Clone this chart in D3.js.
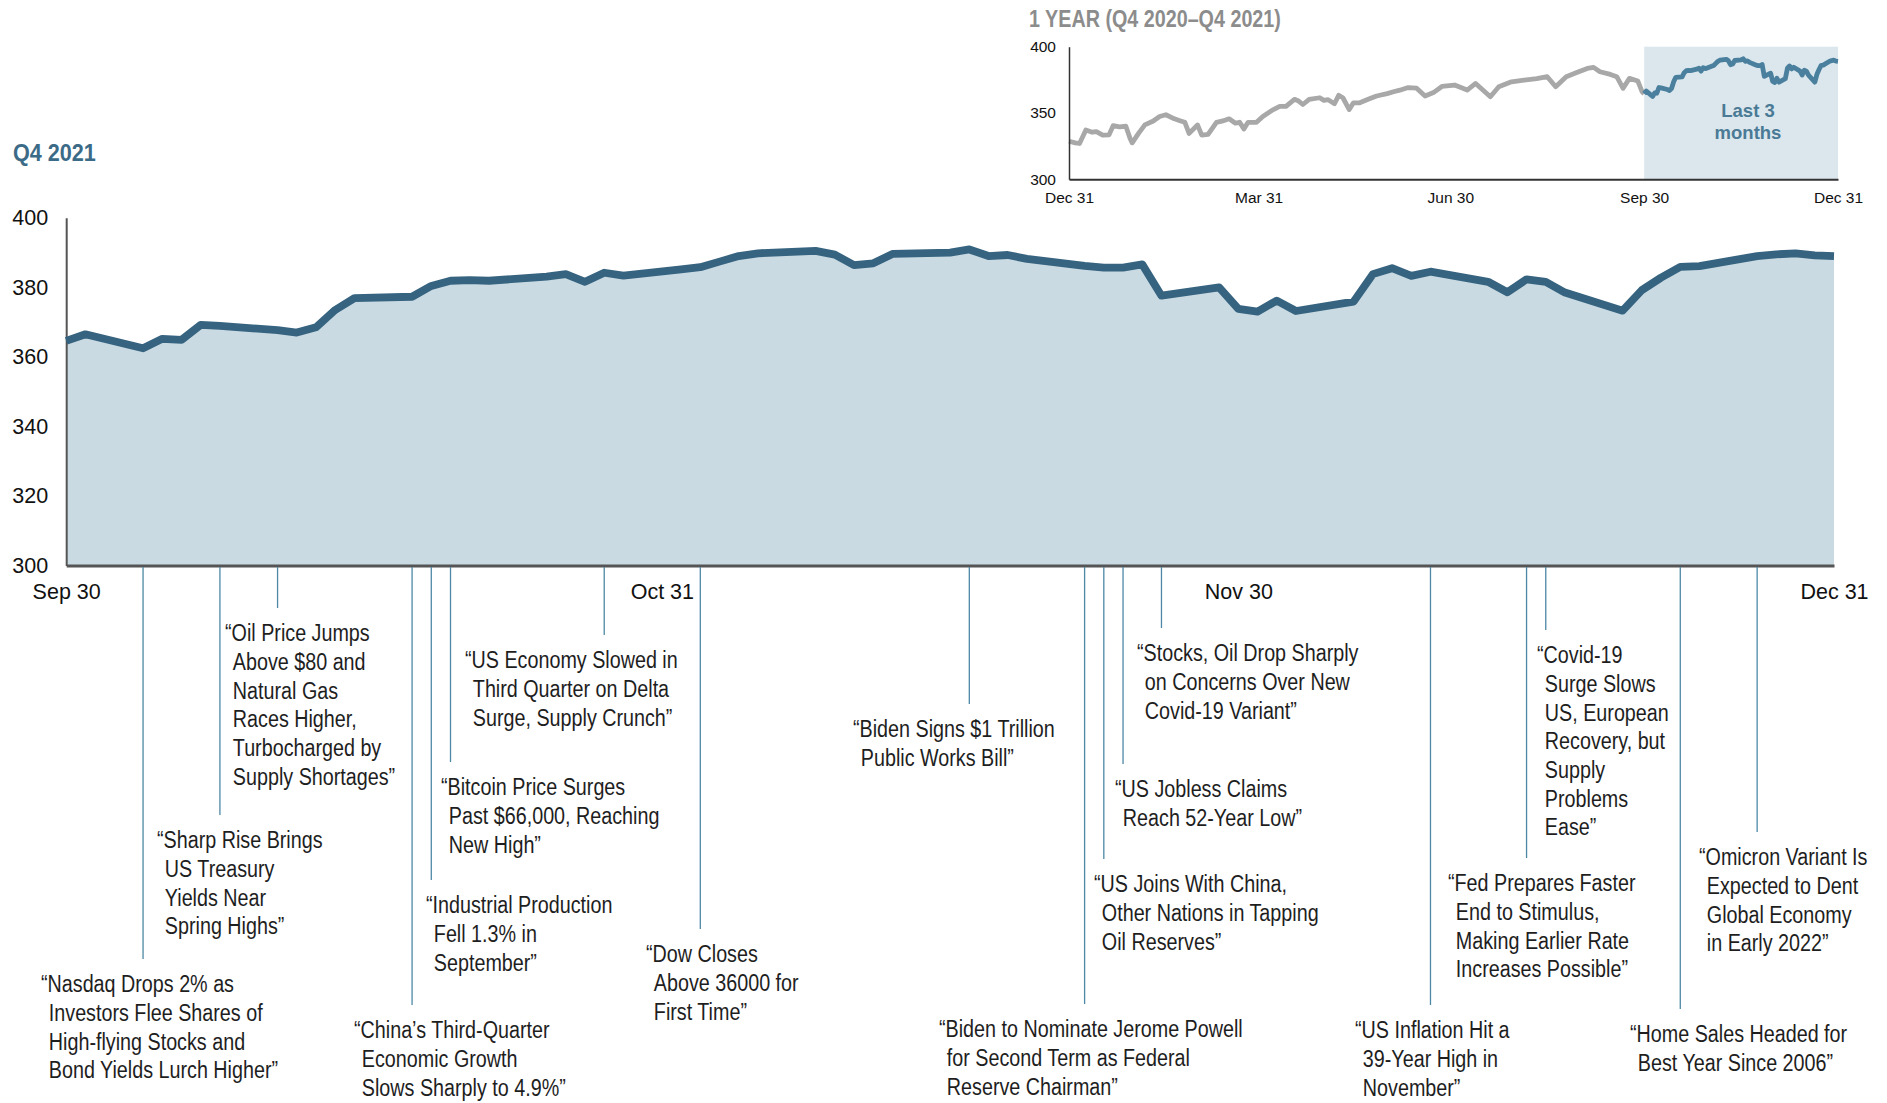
<!DOCTYPE html>
<html><head><meta charset="utf-8">
<script src="https://cdn.jsdelivr.net/npm/d3@7"></script>
<style>
html,body{margin:0;padding:0;background:#fff;}
svg{display:block;}
</style></head><body>
<svg id="chart" width="1887" height="1103"></svg>
<script>
// ---------------- DATA ----------------
const q4Dates = [
 "2021-09-30","2021-10-01",
 "2021-10-04","2021-10-05","2021-10-06","2021-10-07","2021-10-08",
 "2021-10-11","2021-10-12","2021-10-13","2021-10-14","2021-10-15",
 "2021-10-18","2021-10-19","2021-10-20","2021-10-21","2021-10-22",
 "2021-10-25","2021-10-26","2021-10-27","2021-10-28","2021-10-29",
 "2021-11-01","2021-11-02","2021-11-03","2021-11-04","2021-11-05",
 "2021-11-08","2021-11-09","2021-11-10","2021-11-11","2021-11-12",
 "2021-11-15","2021-11-16","2021-11-17","2021-11-18","2021-11-19",
 "2021-11-22","2021-11-23","2021-11-24","2021-11-25","2021-11-26",
 "2021-11-29","2021-11-30","2021-12-01","2021-12-02","2021-12-03",
 "2021-12-06","2021-12-07","2021-12-08","2021-12-09","2021-12-10",
 "2021-12-13","2021-12-14","2021-12-15","2021-12-16","2021-12-17",
 "2021-12-20","2021-12-21","2021-12-22","2021-12-23","2021-12-24",
 "2021-12-27","2021-12-28","2021-12-29","2021-12-30","2021-12-31"
];
const q4Values = [
 364.6,366.5,
 362.5,365.2,364.9,369.2,368.9,
 367.7,367.0,368.5,373.5,376.9,
 377.3,380.4,381.9,382.1,381.9,
 383.1,383.8,381.6,384.2,383.4,
 385.2,385.8,387.4,389.0,389.8,
 390.5,389.4,386.4,386.9,389.6,
 390.0,390.9,389.0,389.3,388.2,
 386.2,385.7,385.7,386.6,377.6,
 380.0,373.8,373.0,376.2,373.2,
 375.9,383.8,385.5,383.3,384.5,
 381.6,378.6,382.3,381.6,378.5,
 373.3,379.2,382.8,385.9,386.1,
 389.0,389.5,389.8,389.2,389.0
];

// One-year inset (Dec 31, 2020 -> Sep 30, 2021), days after Dec 31, 2020
const yearDayOffsets = [
 0,3,5,8,11,13,16,19,21,24,27,29,30,33,36,40,43,46,50,53,55,57,61,63,66,70,73,76,79,81,
 83,85,89,92,97,100,103,107,109,111,114,119,121,123,126,128,130,133,135,138,142,146,151,154,157,161,165,169,173,177,
 183,189,193,200,204,210,216,222,227,231,236,241,246,249,252,257,260,263,266,270,272
];
const yearValues = [
 328.7,327.5,327.0,337.2,335.5,336.0,333.3,333.5,340.5,339.5,340.0,330.8,327.5,334.6,341.0,344.0,347.4,348.7,345.6,344.0,343.0,334.6,341.0,333.3,333.8,343.0,344.0,345.6,342.3,343.0,
 338.0,343.0,343.0,347.4,352.6,355.0,355.0,360.3,359.0,356.4,360.3,361.5,359.5,360.0,357.0,363.3,361.5,352.6,357.7,357.7,360.3,362.8,364.6,366.0,367.2,369.2,368.7,362.8,365.4,370.0,
 371.1,367.3,372.3,362.3,369.8,373.5,374.8,376.0,377.4,369.8,377.4,380.6,383.6,384.4,381.1,379.1,377.4,368.6,376.1,374.1,366.1
];

const mainYTicks = [300,320,340,360,380,400];
const mainXTickDates = ["2021-09-30","2021-10-31","2021-11-30","2021-12-31"];
const mainXTickLabels = ["Sep 30","Oct 31","Nov 30","Dec 31"];
const insetYTicks = [300,350,400];
const insetXTickDates = ["2020-12-31","2021-03-31","2021-06-30","2021-09-30","2021-12-31"];
const insetXTickLabels = ["Dec 31","Mar 31","Jun 30","Sep 30","Dec 31"];

const annotationDates = [
 "2021-10-04","2021-10-08","2021-10-11","2021-10-18","2021-10-19","2021-10-20","2021-10-28","2021-11-02",
 "2021-11-16","2021-11-22","2021-11-23","2021-11-24","2021-11-26",
 "2021-12-10","2021-12-15","2021-12-16","2021-12-23","2021-12-27"
];
const annotationTexts = [
 ["\u201CNasdaq Drops 2% as","Investors Flee Shares of","High-flying Stocks and","Bond Yields Lurch Higher\u201D"],
 ["\u201CSharp Rise Brings","US Treasury","Yields Near","Spring Highs\u201D"],
 ["\u201COil Price Jumps","Above $80 and","Natural Gas","Races Higher,","Turbocharged by","Supply Shortages\u201D"],
 ["\u201CChina\u2019s Third-Quarter","Economic Growth","Slows Sharply to 4.9%\u201D"],
 ["\u201CIndustrial Production","Fell 1.3% in","September\u201D"],
 ["\u201CBitcoin Price Surges","Past $66,000, Reaching","New High\u201D"],
 ["\u201CUS Economy Slowed in","Third Quarter on Delta","Surge, Supply Crunch\u201D"],
 ["\u201CDow Closes","Above 36000 for","First Time\u201D"],
 ["\u201CBiden Signs $1 Trillion","Public Works Bill\u201D"],
 ["\u201CBiden to Nominate Jerome Powell","for Second Term as Federal","Reserve Chairman\u201D"],
 ["\u201CUS Joins With China,","Other Nations in Tapping","Oil Reserves\u201D"],
 ["\u201CUS Jobless Claims","Reach 52-Year Low\u201D"],
 ["\u201CStocks, Oil Drop Sharply","on Concerns Over New","Covid-19 Variant\u201D"],
 ["\u201CUS Inflation Hit a","39-Year High in","November\u201D"],
 ["\u201CFed Prepares Faster","End to Stimulus,","Making Earlier Rate","Increases Possible\u201D"],
 ["\u201CCovid-19","Surge Slows","US, European","Recovery, but","Supply","Problems","Ease\u201D"],
 ["\u201CHome Sales Headed for","Best Year Since 2006\u201D"],
 ["\u201COmicron Variant Is","Expected to Dent","Global Economy","in Early 2022\u201D"]
];

// ---------------- LAYOUT (positions only) ----------------
const annotationLabelX = [41,157,225,354,426,441,465,646,853,939,1094,1115,1137,1355,1448,1537,1630,1699];
const annotationLabelY = [984,840,633,1030,905,787,660,954,729,1029,884,789,653,1030,883,655,1034,857];

// ---------------- DRAW ----------------
const FONT = "'Liberation Sans', Arial, Helvetica, sans-serif";
const NARROW = 0.84;
const parse = d3.timeParse("%Y-%m-%d");
const svg = d3.select("#chart").attr("font-family", FONT);

// ---- main chart ----
const M = {left:66.2, right:1834, top:217.8, bottom:565.6};
const x = d3.scaleTime().domain([parse("2021-09-30"), parse("2021-12-31")]).range([M.left, M.right]);
const y = d3.scaleLinear().domain([300,400]).range([M.bottom, M.top]);
const q4 = q4Dates.map((d,i)=>({date:parse(d), value:q4Values[i]}));

svg.append("path").datum(q4)
  .attr("fill","#c9dae3")
  .attr("d", d3.area().x(d=>x(d.date)).y0(y(300)).y1(d=>y(d.value)));

// Title
svg.append("g").attr("transform",`translate(13,152) scale(0.9,1)`)
  .append("text").attr("y",8.5).attr("font-size",24).attr("font-weight","bold")
  .attr("fill","#3c6b88").text("Q4 2021");

// Axes
const gy = svg.append("g").attr("transform",`translate(${M.left},0)`)
  .call(d3.axisLeft(y).tickValues(mainYTicks).tickSize(0).tickSizeOuter(0).tickPadding(18).tickFormat(d3.format("d")));
gy.attr("font-family",FONT).attr("font-size",21.5);
gy.select(".domain").attr("stroke","#555").attr("stroke-width",2);
gy.selectAll("text").attr("fill","#111");

const gx = svg.append("g").attr("transform",`translate(0,${M.bottom})`)
  .call(d3.axisBottom(x).tickValues(mainXTickDates.map(parse)).tickSize(0).tickSizeOuter(0).tickPadding(18.5)
    .tickFormat((d,i)=>mainXTickLabels[i]));
gx.attr("font-family",FONT).attr("font-size",21.5);
gx.select(".domain").attr("stroke","#555").attr("stroke-width",3);
gx.selectAll("text").attr("fill","#111");

svg.append("path").datum(q4)
  .attr("fill","none").attr("stroke","#36637f").attr("stroke-width",7.8)
  .attr("stroke-linejoin","round")
  .attr("d", d3.line().x(d=>x(d.date)).y(d=>y(d.value)));

// Annotations
const ANN_FS = 23.5, ANN_LH = 28.7;
const tmp = svg.append("text").attr("font-size",ANN_FS).text("\u201C");
const qw = tmp.node().getComputedTextLength() + 1.5;
tmp.remove();

annotationDates.forEach((ds,i)=>{
  const xs = x(parse(ds));
  svg.append("line")
    .attr("x1",xs).attr("x2",xs)
    .attr("y1",M.bottom+1.5).attr("y2",annotationLabelY[i]-25)
    .attr("stroke","#4d88a5").attr("stroke-width",1.3);
  const g = svg.append("g").attr("transform",`translate(${annotationLabelX[i]},${annotationLabelY[i]}) scale(${NARROW},1)`);
  const t = g.append("text").attr("font-size",ANN_FS).attr("fill","#1e1e1e");
  annotationTexts[i].forEach((ln,j)=>{
    t.append("tspan").attr("x", j===0?0:qw).attr("y", j*ANN_LH + 8.3).text(ln);
  });
});

// ---- inset ----
const I = {left:1069, right:1838, top:46.7, bottom:179.3};
const yearStart = parse("2020-12-31");
const xi = d3.scaleTime().domain([yearStart, parse("2021-12-31")]).range([I.left, I.right]);
const yi = d3.scaleLinear().domain([300,400]).range([I.bottom, I.top]);
const yearGray = yearDayOffsets.map((t,i)=>({date:d3.timeDay.offset(yearStart,t), value:yearValues[i]}));
yearGray.push(q4[0]);

svg.append("rect")
  .attr("x", xi(parse("2021-09-30"))).attr("y", I.top)
  .attr("width", I.right - xi(parse("2021-09-30"))).attr("height", I.bottom - I.top)
  .attr("fill","#dbe7ed");

svg.append("g").attr("transform",`translate(1029,19) scale(0.84,1)`)
  .append("text").attr("y",8.2).attr("font-size",23.5).attr("font-weight","bold")
  .attr("fill","#8c8c8c").text("1 YEAR (Q4 2020\u2013Q4 2021)");

const iline = d3.line().x(d=>xi(d.date)).y(d=>yi(d.value)).curve(d3.curveLinear);
svg.append("path").datum(yearGray).attr("fill","none").attr("stroke","#a8a8a8")
  .attr("stroke-width",4.8).attr("stroke-linejoin","round").attr("d", iline);
svg.append("path").datum(q4).attr("fill","none").attr("stroke","#4a809e")
  .attr("stroke-width",4.8).attr("stroke-linejoin","round").attr("d", iline);

const giy = svg.append("g").attr("transform",`translate(${I.left},0)`)
  .call(d3.axisLeft(yi).tickValues(insetYTicks).tickSize(0).tickSizeOuter(0).tickPadding(13).tickFormat(d3.format("d")));
giy.attr("font-family",FONT).attr("font-size",15.5);
giy.select(".domain").attr("stroke","#333").attr("stroke-width",1.5);
giy.selectAll("text").attr("fill","#111");

const gix = svg.append("g").attr("transform",`translate(0,${I.bottom})`)
  .call(d3.axisBottom(xi).tickValues(insetXTickDates.map(parse)).tickSize(0).tickSizeOuter(0).tickPadding(13)
    .tickFormat((d,i)=>insetXTickLabels[i]));
gix.attr("font-family",FONT).attr("font-size",15.5);
gix.select(".domain").attr("stroke","#333").attr("stroke-width",2);
gix.selectAll("text").attr("fill","#111");

const lt = svg.append("text").attr("x",1748).attr("text-anchor","middle")
  .attr("font-size",18.5).attr("font-weight","bold").attr("fill","#4a7a95");
lt.append("tspan").attr("x",1748).attr("y",117).text("Last 3");
lt.append("tspan").attr("x",1748).attr("y",139).text("months");
</script>
</body></html>
